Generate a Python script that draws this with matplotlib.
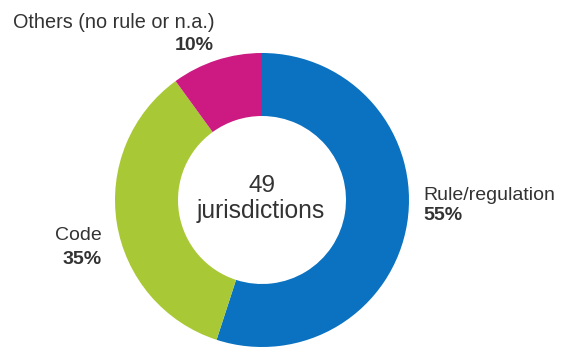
import matplotlib.pyplot as plt

plt.rcParams['font.family'] = ['Liberation Sans', 'DejaVu Sans']

# share of jurisdictions by type of rule
labels = ["Rule/regulation", "Code", "Others (no rule or n.a.)"]
shares = [55, 35, 10]
colors = ["#0a72c0", "#a8c935", "#cc1a82"]
total_jurisdictions = 49

W, H = 562, 350
fig = plt.figure(figsize=(W / 100, H / 100), dpi=100)
ax = fig.add_axes([0, 0, 1, 1])

# donut
cx, cy = 262, H - 200
r_out, r_in = 147, 84
ax.pie(shares, colors=colors, startangle=90, counterclock=False,
       center=(cx, cy), radius=r_out,
       wedgeprops=dict(width=r_out - r_in, linewidth=0))
ax.set_xlim(0, W)
ax.set_ylim(0, H)
ax.set_aspect("equal")
ax.axis("off")

txt = "#333333"
ax.text(cx, H - 186, str(total_jurisdictions), ha="center", va="center",
        fontsize=17.5, color=txt)
ax.text(cx - 1, H - 211, "jurisdictions", ha="center", va="center",
        fontsize=17.7, color=txt)

# labels with their percentages
ax.text(423, H - 195, labels[0], ha="left", va="center", fontsize=14, color=txt)
ax.text(423, H - 216, f"{shares[0]}%", ha="left", va="center", fontsize=14,
        fontweight="bold", color=txt)

ax.text(102, H - 236, labels[1], ha="right", va="center", fontsize=14, color=txt)
ax.text(102, H - 260, f"{shares[1]}%", ha="right", va="center", fontsize=14,
        fontweight="bold", color=txt)

ax.text(215, H - 22, labels[2], ha="right", va="center", fontsize=14.3, color=txt)
ax.text(214, H - 46, f"{shares[2]}%", ha="right", va="center", fontsize=14,
        fontweight="bold", color=txt)

fig.savefig("out.png", dpi=100)
